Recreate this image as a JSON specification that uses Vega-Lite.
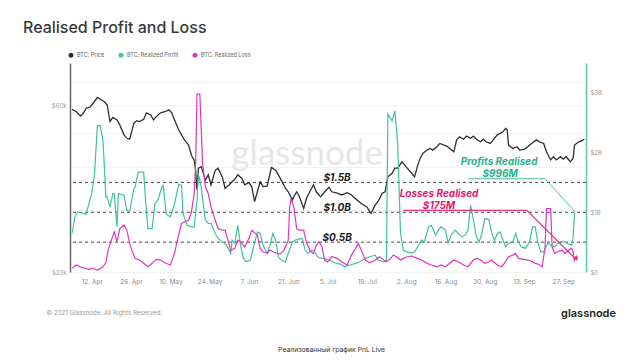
{
"$schema": "https://vega.github.io/schema/vega-lite/v6.json",
"width": 516, "height": 209,
"autosize": {"type": "none"},
"padding": {"left": 70, "top": 63, "right": 54, "bottom": 88},
"background": "#ffffff",
"config": {"view": {"stroke": null}, "font": "Inter"},
"title": {"text": "Realised Profit and Loss", "anchor": "start", "dx": -23, "offset": 16, "fontSize": 16, "fontWeight": 500, "color": "#363a40", "font": "Inter"},
"datasets": {
"price": [
{"date":"2021-04-05","price":58300},{"date":"2021-04-06T12:00Z","price":57400},{"date":"2021-04-08","price":55800},{"date":"2021-04-09","price":56800},{"date":"2021-04-10","price":58700},{"date":"2021-04-11T12:00Z","price":59300},{"date":"2021-04-12T12:00Z","price":60700},{"date":"2021-04-14","price":63100},{"date":"2021-04-15T12:00Z","price":62000},{"date":"2021-04-16T12:00Z","price":61300},{"date":"2021-04-17T12:00Z","price":60000},{"date":"2021-04-18T12:00Z","price":53800},{"date":"2021-04-19T12:00Z","price":55300},{"date":"2021-04-21","price":54400},{"date":"2021-04-22","price":52600},{"date":"2021-04-23T12:00Z","price":49300},{"date":"2021-04-24T12:00Z","price":48200},{"date":"2021-04-25T12:00Z","price":47900},{"date":"2021-04-27","price":53200},{"date":"2021-04-28","price":54100},{"date":"2021-04-29","price":53800},{"date":"2021-04-30T12:00Z","price":54600},{"date":"2021-05-01T12:00Z","price":57000},{"date":"2021-05-03","price":56200},{"date":"2021-05-04","price":54400},{"date":"2021-05-05","price":55600},{"date":"2021-05-06T12:00Z","price":57000},{"date":"2021-05-08","price":57400},{"date":"2021-05-09T12:00Z","price":58100},{"date":"2021-05-10T12:00Z","price":57000},{"date":"2021-05-11T12:00Z","price":54400},{"date":"2021-05-13","price":50900},{"date":"2021-05-14","price":49300},{"date":"2021-05-15","price":47700},{"date":"2021-05-16T12:00Z","price":46100},{"date":"2021-05-17T12:00Z","price":43200},{"date":"2021-05-18","price":42300},{"date":"2021-05-18T12:00Z","price":41800},{"date":"2021-05-19","price":39100},{"date":"2021-05-19T12:00Z","price":34300},{"date":"2021-05-20","price":39600},{"date":"2021-05-21","price":40000},{"date":"2021-05-22T12:00Z","price":36600},{"date":"2021-05-23T12:00Z","price":37900},{"date":"2021-05-24T12:00Z","price":35500},{"date":"2021-05-26","price":39100},{"date":"2021-05-27","price":39600},{"date":"2021-05-28T12:00Z","price":37400},{"date":"2021-05-29T12:00Z","price":34700},{"date":"2021-05-31","price":35500},{"date":"2021-06-01","price":36200},{"date":"2021-06-02","price":36800},{"date":"2021-06-03","price":37900},{"date":"2021-06-04T12:00Z","price":37000},{"date":"2021-06-05T12:00Z","price":35500},{"date":"2021-06-07","price":36000},{"date":"2021-06-08","price":35100},{"date":"2021-06-09","price":31800},{"date":"2021-06-10","price":33900},{"date":"2021-06-11","price":36200},{"date":"2021-06-12","price":35100},{"date":"2021-06-13T12:00Z","price":35200},{"date":"2021-06-15","price":39800},{"date":"2021-06-16T12:00Z","price":39100},{"date":"2021-06-17T12:00Z","price":37900},{"date":"2021-06-18T12:00Z","price":36600},{"date":"2021-06-20","price":34700},{"date":"2021-06-21","price":33900},{"date":"2021-06-22T12:00Z","price":32100},{"date":"2021-06-23","price":32800},{"date":"2021-06-24","price":33900},{"date":"2021-06-25","price":32800},{"date":"2021-06-26T12:00Z","price":30400},{"date":"2021-06-27T12:00Z","price":32500},{"date":"2021-06-29","price":34300},{"date":"2021-06-30","price":35500},{"date":"2021-07-01","price":33900},{"date":"2021-07-02T12:00Z","price":32800},{"date":"2021-07-04","price":33900},{"date":"2021-07-05T12:00Z","price":34900},{"date":"2021-07-06T12:00Z","price":33900},{"date":"2021-07-08T12:00Z","price":33600},{"date":"2021-07-10","price":33200},{"date":"2021-07-12","price":33700},{"date":"2021-07-13T12:00Z","price":33200},{"date":"2021-07-15T12:00Z","price":32100},{"date":"2021-07-17","price":31400},{"date":"2021-07-19","price":30700},{"date":"2021-07-20T12:00Z","price":29400},{"date":"2021-07-22","price":31100},{"date":"2021-07-23","price":31800},{"date":"2021-07-24T12:00Z","price":33600},{"date":"2021-07-25T12:00Z","price":33900},{"date":"2021-07-26T12:00Z","price":37400},{"date":"2021-07-28","price":38300},{"date":"2021-07-29","price":39600},{"date":"2021-07-30","price":39600},{"date":"2021-07-31T12:00Z","price":41300},{"date":"2021-08-01T12:00Z","price":40400},{"date":"2021-08-03","price":39100},{"date":"2021-08-04","price":38300},{"date":"2021-08-05","price":37400},{"date":"2021-08-06","price":40000},{"date":"2021-08-07","price":42300},{"date":"2021-08-08","price":43700},{"date":"2021-08-09T12:00Z","price":44600},{"date":"2021-08-10T12:00Z","price":45100},{"date":"2021-08-11T12:00Z","price":44600},{"date":"2021-08-13","price":45600},{"date":"2021-08-14","price":46600},{"date":"2021-08-15T12:00Z","price":46100},{"date":"2021-08-16T12:00Z","price":45800},{"date":"2021-08-17T12:00Z","price":45100},{"date":"2021-08-19","price":44100},{"date":"2021-08-20","price":47700},{"date":"2021-08-21","price":48700},{"date":"2021-08-22T12:00Z","price":47900},{"date":"2021-08-23T12:00Z","price":48900},{"date":"2021-08-25","price":48200},{"date":"2021-08-26","price":48900},{"date":"2021-08-27","price":47900},{"date":"2021-08-28T12:00Z","price":47100},{"date":"2021-08-29T12:00Z","price":47900},{"date":"2021-08-30T12:00Z","price":47100},{"date":"2021-09-01","price":46600},{"date":"2021-09-02","price":47700},{"date":"2021-09-03T12:00Z","price":49300},{"date":"2021-09-04T12:00Z","price":49800},{"date":"2021-09-05T12:00Z","price":50300},{"date":"2021-09-06T12:00Z","price":51500},{"date":"2021-09-07","price":50900},{"date":"2021-09-07T12:00Z","price":46100},{"date":"2021-09-09","price":45100},{"date":"2021-09-10T12:00Z","price":45600},{"date":"2021-09-11T12:00Z","price":44600},{"date":"2021-09-13","price":44800},{"date":"2021-09-14","price":45400},{"date":"2021-09-15","price":46100},{"date":"2021-09-16T12:00Z","price":47100},{"date":"2021-09-17T12:00Z","price":47700},{"date":"2021-09-18T12:00Z","price":47100},{"date":"2021-09-20","price":46600},{"date":"2021-09-21","price":44100},{"date":"2021-09-22T12:00Z","price":41800},{"date":"2021-09-23T12:00Z","price":42700},{"date":"2021-09-24T12:00Z","price":41800},{"date":"2021-09-26","price":42700},{"date":"2021-09-27","price":42000},{"date":"2021-09-28","price":42700},{"date":"2021-09-29T12:00Z","price":41300},{"date":"2021-09-30T12:00Z","price":42300},{"date":"2021-10-01","price":46100},{"date":"2021-10-02T12:00Z","price":47100},{"date":"2021-10-03T12:00Z","price":47400},{"date":"2021-10-04T12:00Z","price":47900}
],
"profit": [
{"date":"2021-04-05","value":0.645},{"date":"2021-04-06","value":0.922},{"date":"2021-04-07","value":1.005},{"date":"2021-04-08T12:00Z","value":0.988},{"date":"2021-04-10","value":0.967},{"date":"2021-04-11","value":1.145},{"date":"2021-04-12","value":1.312},{"date":"2021-04-13","value":1.645},{"date":"2021-04-14","value":2.45},{"date":"2021-04-15","value":2.45},{"date":"2021-04-16","value":2.2},{"date":"2021-04-16T12:00Z","value":1.755},{"date":"2021-04-17","value":1.255},{"date":"2021-04-17T12:00Z","value":1.255},{"date":"2021-04-18T12:00Z","value":1.088},{"date":"2021-04-19T12:00Z","value":1.312},{"date":"2021-04-20","value":1.312},{"date":"2021-04-21","value":0.755},{"date":"2021-04-21T12:00Z","value":1.312},{"date":"2021-04-23T12:00Z","value":1.283},{"date":"2021-04-24T12:00Z","value":1.033},{"date":"2021-04-25T12:00Z","value":1.005},{"date":"2021-04-27","value":1.395},{"date":"2021-04-27T12:00Z","value":1.422},{"date":"2021-04-28T12:00Z","value":1.672},{"date":"2021-04-30T12:00Z","value":1.672},{"date":"2021-05-01","value":1.312},{"date":"2021-05-02","value":0.728},{"date":"2021-05-03T12:00Z","value":0.728},{"date":"2021-05-04T12:00Z","value":1.145},{"date":"2021-05-05T12:00Z","value":1.2},{"date":"2021-05-07","value":1.422},{"date":"2021-05-07T12:00Z","value":1.45},{"date":"2021-05-08T12:00Z","value":0.978},{"date":"2021-05-10","value":0.922},{"date":"2021-05-11T12:00Z","value":1.145},{"date":"2021-05-13","value":1.467},{"date":"2021-05-14","value":1.45},{"date":"2021-05-14T12:00Z","value":0.978},{"date":"2021-05-16","value":0.783},{"date":"2021-05-17T12:00Z","value":0.755},{"date":"2021-05-18T12:00Z","value":0.755},{"date":"2021-05-19T12:00Z","value":1.2},{"date":"2021-05-20","value":1.645},{"date":"2021-05-21","value":1.422},{"date":"2021-05-22T12:00Z","value":0.867},{"date":"2021-05-23T12:00Z","value":0.812},{"date":"2021-05-24T12:00Z","value":0.812},{"date":"2021-05-26","value":0.645},{"date":"2021-05-27","value":0.562},{"date":"2021-05-28T12:00Z","value":0.505},{"date":"2021-05-30","value":0.45},{"date":"2021-05-31T12:00Z","value":0.312},{"date":"2021-06-01","value":0.533},{"date":"2021-06-02","value":0.478},{"date":"2021-06-03","value":0.783},{"date":"2021-06-04","value":0.45},{"date":"2021-06-05","value":0.228},{"date":"2021-06-06","value":0.172},{"date":"2021-06-07T12:00Z","value":0.2},{"date":"2021-06-08T12:00Z","value":0.395},{"date":"2021-06-10","value":0.672},{"date":"2021-06-11","value":0.645},{"date":"2021-06-12","value":0.45},{"date":"2021-06-13T12:00Z","value":0.312},{"date":"2021-06-14T12:00Z","value":0.45},{"date":"2021-06-15T12:00Z","value":0.645},{"date":"2021-06-16T12:00Z","value":0.533},{"date":"2021-06-17T12:00Z","value":0.255},{"date":"2021-06-18T12:00Z","value":0.2},{"date":"2021-06-20","value":0.172},{"date":"2021-06-21","value":0.312},{"date":"2021-06-22T12:00Z","value":0.505},{"date":"2021-06-23T12:00Z","value":0.533},{"date":"2021-06-24T12:00Z","value":0.545},{"date":"2021-06-26","value":0.562},{"date":"2021-06-27","value":0.367},{"date":"2021-06-28","value":0.312},{"date":"2021-06-29T12:00Z","value":0.367},{"date":"2021-06-30T12:00Z","value":0.338},{"date":"2021-07-01T12:00Z","value":0.255},{"date":"2021-07-03","value":0.228},{"date":"2021-07-04","value":0.228},{"date":"2021-07-05T12:00Z","value":0.2},{"date":"2021-07-07T12:00Z","value":0.155},{"date":"2021-07-09T12:00Z","value":0.133},{"date":"2021-07-11","value":0.088},{"date":"2021-07-13","value":0.117},{"date":"2021-07-15","value":0.145},{"date":"2021-07-16T12:00Z","value":0.172},{"date":"2021-07-18T12:00Z","value":0.228},{"date":"2021-07-20","value":0.255},{"date":"2021-07-22","value":0.283},{"date":"2021-07-23","value":0.2},{"date":"2021-07-25","value":0.172},{"date":"2021-07-26","value":0.2},{"date":"2021-07-26T12:00Z","value":2.645},{"date":"2021-07-28","value":2.533},{"date":"2021-07-29","value":2.7},{"date":"2021-07-30","value":2.145},{"date":"2021-07-31","value":0.645},{"date":"2021-08-01","value":0.367},{"date":"2021-08-02","value":0.338},{"date":"2021-08-04","value":0.322},{"date":"2021-08-05","value":0.338},{"date":"2021-08-06T12:00Z","value":0.45},{"date":"2021-08-07T12:00Z","value":0.533},{"date":"2021-08-08T12:00Z","value":0.505},{"date":"2021-08-10","value":0.755},{"date":"2021-08-11","value":0.783},{"date":"2021-08-12T12:00Z","value":0.617},{"date":"2021-08-13T12:00Z","value":0.7},{"date":"2021-08-14T12:00Z","value":0.755},{"date":"2021-08-16","value":0.7},{"date":"2021-08-17","value":0.488},{"date":"2021-08-18","value":0.617},{"date":"2021-08-19T12:00Z","value":0.7},{"date":"2021-08-20T12:00Z","value":0.645},{"date":"2021-08-22","value":0.588},{"date":"2021-08-23","value":0.617},{"date":"2021-08-24","value":0.7},{"date":"2021-08-25","value":1.117},{"date":"2021-08-26","value":0.867},{"date":"2021-08-27","value":0.588},{"date":"2021-08-28","value":0.505},{"date":"2021-08-29","value":0.645},{"date":"2021-08-30","value":0.895},{"date":"2021-08-31T12:00Z","value":0.878},{"date":"2021-09-01T12:00Z","value":0.645},{"date":"2021-09-02T12:00Z","value":0.533},{"date":"2021-09-03T12:00Z","value":0.645},{"date":"2021-09-04T12:00Z","value":0.672},{"date":"2021-09-05T12:00Z","value":0.533},{"date":"2021-09-06T12:00Z","value":0.422},{"date":"2021-09-07T12:00Z","value":0.478},{"date":"2021-09-09","value":0.505},{"date":"2021-09-10","value":0.645},{"date":"2021-09-11","value":0.505},{"date":"2021-09-12","value":0.422},{"date":"2021-09-13T12:00Z","value":0.395},{"date":"2021-09-15","value":0.505},{"date":"2021-09-16","value":0.755},{"date":"2021-09-17","value":0.755},{"date":"2021-09-18","value":0.478},{"date":"2021-09-19","value":0.338},{"date":"2021-09-20","value":0.338},{"date":"2021-09-21T12:00Z","value":0.488},{"date":"2021-09-22T12:00Z","value":0.45},{"date":"2021-09-24","value":0.422},{"date":"2021-09-25","value":0.478},{"date":"2021-09-26","value":0.505},{"date":"2021-09-27T12:00Z","value":0.505},{"date":"2021-09-28T12:00Z","value":0.478},{"date":"2021-09-30","value":0.45},{"date":"2021-09-30T12:00Z","value":0.588},{"date":"2021-10-01","value":0.996}
],
"loss": [
{"date":"2021-04-05","value":0.062},{"date":"2021-04-06T12:00Z","value":0.117},{"date":"2021-04-08","value":0.088},{"date":"2021-04-09T12:00Z","value":0.062},{"date":"2021-04-11","value":0.045},{"date":"2021-04-12T12:00Z","value":0.062},{"date":"2021-04-14","value":0.033},{"date":"2021-04-16","value":0.088},{"date":"2021-04-17","value":0.155},{"date":"2021-04-18","value":0.395},{"date":"2021-04-19","value":0.533},{"date":"2021-04-20","value":0.672},{"date":"2021-04-21","value":0.505},{"date":"2021-04-22","value":0.728},{"date":"2021-04-23T12:00Z","value":0.783},{"date":"2021-04-24T12:00Z","value":0.7},{"date":"2021-04-25T12:00Z","value":0.478},{"date":"2021-04-26T12:00Z","value":0.338},{"date":"2021-04-27T12:00Z","value":0.228},{"date":"2021-04-29","value":0.2},{"date":"2021-04-30T12:00Z","value":0.145},{"date":"2021-05-02","value":0.088},{"date":"2021-05-03T12:00Z","value":0.145},{"date":"2021-05-05","value":0.212},{"date":"2021-05-06T12:00Z","value":0.2},{"date":"2021-05-08","value":0.155},{"date":"2021-05-10","value":0.117},{"date":"2021-05-11T12:00Z","value":0.312},{"date":"2021-05-12T12:00Z","value":0.533},{"date":"2021-05-14","value":0.812},{"date":"2021-05-15","value":0.838},{"date":"2021-05-16T12:00Z","value":0.867},{"date":"2021-05-17T12:00Z","value":1.005},{"date":"2021-05-18T12:00Z","value":1.312},{"date":"2021-05-19","value":1.8},{"date":"2021-05-19T12:00Z","value":2.978},{"date":"2021-05-20T12:00Z","value":2.978},{"date":"2021-05-21T12:00Z","value":1.812},{"date":"2021-05-22T12:00Z","value":1.422},{"date":"2021-05-23T12:00Z","value":1.312},{"date":"2021-05-24T12:00Z","value":1.088},{"date":"2021-05-26","value":0.867},{"date":"2021-05-27","value":0.728},{"date":"2021-05-28T12:00Z","value":0.7},{"date":"2021-05-29T12:00Z","value":0.7},{"date":"2021-05-30T12:00Z","value":0.533},{"date":"2021-05-31T12:00Z","value":0.367},{"date":"2021-06-02","value":0.395},{"date":"2021-06-03","value":0.533},{"date":"2021-06-04","value":0.505},{"date":"2021-06-05T12:00Z","value":0.422},{"date":"2021-06-07","value":0.562},{"date":"2021-06-08","value":0.7},{"date":"2021-06-10","value":0.617},{"date":"2021-06-11","value":0.395},{"date":"2021-06-12","value":0.338},{"date":"2021-06-13T12:00Z","value":0.312},{"date":"2021-06-14T12:00Z","value":0.367},{"date":"2021-06-15T12:00Z","value":0.338},{"date":"2021-06-17","value":0.312},{"date":"2021-06-18","value":0.3},{"date":"2021-06-19T12:00Z","value":0.367},{"date":"2021-06-21","value":0.533},{"date":"2021-06-21T12:00Z","value":1.088},{"date":"2021-06-22","value":1.228},{"date":"2021-06-23","value":1.088},{"date":"2021-06-24","value":0.728},{"date":"2021-06-25","value":0.7},{"date":"2021-06-26T12:00Z","value":0.7},{"date":"2021-06-27T12:00Z","value":0.488},{"date":"2021-06-29","value":0.338},{"date":"2021-06-30","value":0.312},{"date":"2021-07-01","value":0.45},{"date":"2021-07-02","value":0.505},{"date":"2021-07-03","value":0.422},{"date":"2021-07-04","value":0.2},{"date":"2021-07-05","value":0.17},{"date":"2021-07-06T12:00Z","value":0.255},{"date":"2021-07-08T12:00Z","value":0.228},{"date":"2021-07-10","value":0.172},{"date":"2021-07-12","value":0.117},{"date":"2021-07-13T12:00Z","value":0.283},{"date":"2021-07-15","value":0.395},{"date":"2021-07-16","value":0.478},{"date":"2021-07-17T12:00Z","value":0.312},{"date":"2021-07-18T12:00Z","value":0.2},{"date":"2021-07-20","value":0.155},{"date":"2021-07-22","value":0.2},{"date":"2021-07-23T12:00Z","value":0.255},{"date":"2021-07-25","value":0.2},{"date":"2021-07-26","value":0.172},{"date":"2021-07-27T12:00Z","value":0.228},{"date":"2021-07-28T12:00Z","value":0.283},{"date":"2021-07-29T12:00Z","value":0.255},{"date":"2021-07-31","value":0.2},{"date":"2021-08-01","value":0.228},{"date":"2021-08-02T12:00Z","value":0.255},{"date":"2021-08-04","value":0.267},{"date":"2021-08-06","value":0.228},{"date":"2021-08-07T12:00Z","value":0.2},{"date":"2021-08-09T12:00Z","value":0.145},{"date":"2021-08-11","value":0.117},{"date":"2021-08-13","value":0.088},{"date":"2021-08-14T12:00Z","value":0.117},{"date":"2021-08-16","value":0.088},{"date":"2021-08-17T12:00Z","value":0.145},{"date":"2021-08-19","value":0.2},{"date":"2021-08-20T12:00Z","value":0.172},{"date":"2021-08-22T12:00Z","value":0.117},{"date":"2021-08-24","value":0.088},{"date":"2021-08-26","value":0.2},{"date":"2021-08-27","value":0.228},{"date":"2021-08-28T12:00Z","value":0.2},{"date":"2021-08-30","value":0.145},{"date":"2021-08-31T12:00Z","value":0.172},{"date":"2021-09-01T12:00Z","value":0.2},{"date":"2021-09-03T12:00Z","value":0.117},{"date":"2021-09-05","value":0.088},{"date":"2021-09-06","value":0.145},{"date":"2021-09-07T12:00Z","value":0.255},{"date":"2021-09-09","value":0.283},{"date":"2021-09-10","value":0.312},{"date":"2021-09-11","value":0.228},{"date":"2021-09-13","value":0.212},{"date":"2021-09-14T12:00Z","value":0.2},{"date":"2021-09-16","value":0.172},{"date":"2021-09-17","value":0.145},{"date":"2021-09-18","value":0.133},{"date":"2021-09-19T12:00Z","value":0.088},{"date":"2021-09-20T12:00Z","value":0.422},{"date":"2021-09-21","value":1.062},{"date":"2021-09-22T12:00Z","value":1.062},{"date":"2021-09-23","value":0.422},{"date":"2021-09-24","value":0.312},{"date":"2021-09-25","value":0.338},{"date":"2021-09-26T12:00Z","value":0.367},{"date":"2021-09-27T12:00Z","value":0.312},{"date":"2021-09-29","value":0.367},{"date":"2021-09-30","value":0.395},{"date":"2021-09-30T12:00Z","value":0.338},{"date":"2021-10-01","value":0.175}
],
"levels": [{"value":0.5},{"value":1.0},{"value":1.5}],
"conn": [
{"kind":"profit","date":"2021-08-24T05:00Z","value":1.562},{"kind":"profit","date":"2021-09-20T12:00Z","value":1.562},{"kind":"profit","date":"2021-10-01T05:00Z","value":1.005},
{"kind":"loss","date":"2021-08-01","value":1.033},{"kind":"loss","date":"2021-09-14","value":1.033},{"kind":"loss","date":"2021-10-01T19:00Z","value":0.2}
],
"arrow": [{"date":"2021-10-01T17:00Z","value":0.23}],
"labels": [
{"kind":"level","text":"$1.5B","date":"2021-07-08T10:00Z","value":1.58},
{"kind":"level","text":"$1.0B","date":"2021-07-08T10:00Z","value":1.078},
{"kind":"level","text":"$0.5B","date":"2021-07-08T10:00Z","value":0.562},
{"kind":"profit","text":"Profits Realised","date":"2021-09-04T03:00Z","value":1.85},
{"kind":"profit","text":"$996M","date":"2021-09-04T12:00Z","value":1.645},
{"kind":"loss","text":"Losses Realised","date":"2021-08-13T17:00Z","value":1.30},
{"kind":"loss","text":"$175M","date":"2021-08-13T17:00Z","value":1.105}
],
"wm": [{"text":"glassnode","date":"2021-06-27T17:00Z","value":1.97}]
},
"layer": [
{
"data": {"name": "wm"},
"mark": {"type": "text", "fontSize": 35, "color": "#e6e6e6", "font": "Lato", "align": "center", "baseline": "middle"},
"encoding": {
"x": {"field": "date", "type": "temporal", "scale": {"type": "utc", "domain": [{"year":2021,"month":4,"date":4,"hours":6,"utc":true},{"year":2021,"month":10,"date":5,"hours":2,"utc":true}]}},
"y": {"field": "value", "type": "quantitative", "scale": {"domain": [0, 3.4833]}, "axis": null},
"text": {"field": "text"}
}
},
{
"data": {"name": "price"},
"mark": {"type": "line", "strokeWidth": 1.3, "clip": true},
"encoding": {
"x": {"field": "date", "type": "temporal", "scale": {"type": "utc", "domain": [{"year":2021,"month":4,"date":4,"hours":6,"utc":true},{"year":2021,"month":10,"date":5,"hours":2,"utc":true}]},
 "axis": {"values": [{"year":2021,"month":4,"date":12,"utc":true},{"year":2021,"month":4,"date":26,"utc":true},{"year":2021,"month":5,"date":10,"utc":true},{"year":2021,"month":5,"date":24,"utc":true},{"year":2021,"month":6,"date":7,"utc":true},{"year":2021,"month":6,"date":21,"utc":true},{"year":2021,"month":7,"date":5,"utc":true},{"year":2021,"month":7,"date":19,"utc":true},{"year":2021,"month":8,"date":2,"utc":true},{"year":2021,"month":8,"date":16,"utc":true},{"year":2021,"month":8,"date":30,"utc":true},{"year":2021,"month":9,"date":13,"utc":true},{"year":2021,"month":9,"date":27,"utc":true}],
 "format": "%-d. %b", "domain": false, "ticks": false, "grid": false, "labelFontSize": 6.5, "labelColor": "#8a8a8a", "labelPadding": 6, "labelFont": "Inter",
 "title": "© 2021 Glassnode. All Rights Reserved.", "titleAnchor": "start", "titleAlign": "left", "titleX": -24, "titleY": 40, "titleBaseline": "middle", "titleFontSize": 6.2, "titleFontWeight": "normal", "titleColor": "#9a9a9a", "titleFont": "Inter"}},
"y": {"field": "price", "type": "quantitative", "scale": {"type": "log", "domain": [20000, 79100]},
 "axis": {"orient": "left", "values": [20000, 30000, 40000, 50000, 60000, 70000], "labelExpr": "datum.value == 20000 ? '$20k' : (datum.value == 60000 ? '$60k' : '')", "domain": true, "domainColor": "#666666", "domainWidth": 1.5, "ticks": false, "grid": true, "gridColor": "#f2f2f2", "labelFontSize": 6, "labelColor": "#9a9a9a", "labelPadding": 4, "labelFont": "Inter",
 "title": "Реализованный график PnL Live", "titleAngle": 0, "titleX": 261, "titleY": 286, "titleAlign": "center", "titleBaseline": "middle", "titleFontSize": 6.8, "titleFontWeight": "normal", "titleColor": "#333333", "titleFont": "Inter"}},
"color": {"datum": "BTC: Price", "type": "nominal",
 "scale": {"domain": ["BTC: Price", "BTC: Realized Profit", "BTC: Realized Loss"], "range": ["#2e2e2e", "#3fc1a0", "#df35c0"]},
 "legend": {"orient": "none", "legendX": -2, "legendY": -11, "direction": "horizontal", "title": null, "symbolType": "circle", "symbolSize": 6, "symbolStrokeWidth": 2.6, "labelFontSize": 5.5, "labelColor": "#666666", "labelOffset": 3, "columnPadding": 9, "labelFont": "Inter"}}
}
},
{
"layer": [
{
"data": {"name": "levels"},
"mark": {"type": "rule", "strokeDash": [3, 3], "color": "#333333", "strokeWidth": 0.9},
"encoding": {
"y": {"field": "value", "type": "quantitative", "scale": {"domain": [0, 3.4833]},
 "axis": {"orient": "right", "values": [0, 1, 2, 3], "labelExpr": "datum.value == 0 ? '$0' : '$' + datum.value + 'B'", "domain": true, "domainColor": "#5cc7ac", "domainWidth": 1.5, "ticks": false, "grid": false, "labelFontSize": 6, "labelColor": "#9a9a9a", "labelPadding": 4, "labelFont": "Inter",
 "title": "glassnode", "titleAngle": 0, "titleX": 2, "titleY": 250, "titleAlign": "center", "titleBaseline": "middle", "titleFontSize": 11, "titleFontWeight": 600, "titleColor": "#1e1e1e", "titleFont": "Inter"}}
}
},
{
"data": {"name": "profit"},
"mark": {"type": "line", "strokeWidth": 1.2},
"encoding": {
"x": {"field": "date", "type": "temporal"},
"y": {"field": "value", "type": "quantitative"},
"color": {"datum": "BTC: Realized Profit", "type": "nominal"}
}
},
{
"data": {"name": "loss"},
"mark": {"type": "line", "strokeWidth": 1.2},
"encoding": {
"x": {"field": "date", "type": "temporal"},
"y": {"field": "value", "type": "quantitative"},
"color": {"datum": "BTC: Realized Loss", "type": "nominal"}
}
},
{
"data": {"name": "conn"},
"transform": [{"filter": "datum.kind == 'profit'"}],
"mark": {"type": "line", "color": "#4dbd9c", "strokeWidth": 1},
"encoding": {
"x": {"field": "date", "type": "temporal"},
"y": {"field": "value", "type": "quantitative"}
}
},
{
"data": {"name": "conn"},
"transform": [{"filter": "datum.kind == 'loss'"}],
"mark": {"type": "line", "color": "#e8307a", "strokeWidth": 1.2},
"encoding": {
"x": {"field": "date", "type": "temporal"},
"y": {"field": "value", "type": "quantitative"}
}
},
{
"data": {"name": "arrow"},
"mark": {"type": "point", "shape": "triangle-right", "angle": 45, "filled": true, "size": 26, "color": "#e8307a", "opacity": 1},
"encoding": {
"x": {"field": "date", "type": "temporal"},
"y": {"field": "value", "type": "quantitative"}
}
},
{
"data": {"name": "labels"},
"transform": [{"filter": "datum.kind == 'level'"}],
"mark": {"type": "text", "fontSize": 10, "fontWeight": "bold", "fontStyle": "italic", "color": "#1a1a1a", "font": "Inter", "align": "center", "baseline": "middle"},
"encoding": {
"x": {"field": "date", "type": "temporal"},
"y": {"field": "value", "type": "quantitative"},
"text": {"field": "text"}
}
},
{
"data": {"name": "labels"},
"transform": [{"filter": "datum.kind == 'profit'"}],
"mark": {"type": "text", "fontSize": 10, "fontWeight": "bold", "fontStyle": "italic", "color": "#27b08c", "font": "Inter", "align": "center", "baseline": "middle"},
"encoding": {
"x": {"field": "date", "type": "temporal"},
"y": {"field": "value", "type": "quantitative"},
"text": {"field": "text"}
}
},
{
"data": {"name": "labels"},
"transform": [{"filter": "datum.kind == 'loss'"}],
"mark": {"type": "text", "fontSize": 10, "fontWeight": "bold", "fontStyle": "italic", "color": "#e8166e", "font": "Inter", "align": "center", "baseline": "middle"},
"encoding": {
"x": {"field": "date", "type": "temporal"},
"y": {"field": "value", "type": "quantitative"},
"text": {"field": "text"}
}
}
]
}
],
"resolve": {"scale": {"y": "independent"}, "axis": {"y": "independent"}}
}
